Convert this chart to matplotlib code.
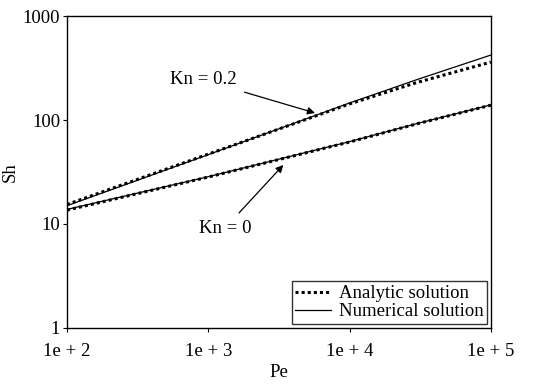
import matplotlib.pyplot as plt

plt.rcParams["font.family"] = ["Liberation Serif", "DejaVu Serif"]

pe = [1e2, 1e3, 1e4, 3e4, 1e5]
sh_kn0_analytic = [13.6, 28.3, 61.5, 92, 139]
sh_kn0_numeric = [13.8, 28.5, 62, 92.5, 140]
sh_kn02_analytic = [15.4, 47, 143, 230, 361]
sh_kn02_numeric = [15.0, 46.5, 146, 245, 422]
xticks = [1e2, 1e3, 1e4, 1e5]
xtick_labels = ["1e + 2", "1e + 3", "1e + 4", "1e + 5"]
yticks = [1, 10, 100, 1000]
ytick_labels = ["1", "10", "100", "1000"]

fs = 13.5

fig, ax = plt.subplots(figsize=(5.49, 3.84), dpi=100)
fig.subplots_adjust(left=0.122, right=0.894, top=0.958, bottom=0.146)

ax.plot(pe, sh_kn02_analytic, color="black", linestyle=(0, (1, 1)), linewidth=2.2,
        label="Analytic solution")
ax.plot(pe, sh_kn02_numeric, color="black", linewidth=0.9, label="Numerical solution")
ax.plot(pe, sh_kn0_analytic, color="black", linestyle=(0, (1, 1)), linewidth=2.2)
ax.plot(pe, sh_kn0_numeric, color="black", linewidth=0.9)

ax.set_xscale("log")
ax.set_yscale("log")
ax.set_xlim(1e2, 1e5)
ax.set_ylim(1, 1000)
ax.set_xticks(xticks)
ax.set_xticklabels(xtick_labels)
ax.set_yticks(yticks)
ax.set_yticklabels(ytick_labels)
ax.minorticks_off()
ax.tick_params(direction="out", length=3, width=0.8, labelsize=fs)
ax.tick_params(axis="x", pad=8)
ax.tick_params(axis="y", pad=2)
for spine in ax.spines.values():
    spine.set_linewidth(1.0)

ax.set_xlabel("Pe", fontsize=fs, labelpad=3)
ax.set_ylabel("Sh", fontsize=fs, labelpad=3)

ax.annotate("Kn = 0.2", xy=(5.7e3, 117), xytext=(9.2e2, 243),
            fontsize=fs, ha="center", va="center",
            arrowprops=dict(arrowstyle="-|>", color="black", lw=0.9,
                            mutation_scale=11, shrinkA=4, shrinkB=0))
ax.annotate("Kn = 0", xy=(3.4e3, 37), xytext=(1.31e3, 9.1),
            fontsize=fs, ha="center", va="center",
            arrowprops=dict(arrowstyle="-|>", color="black", lw=0.9,
                            mutation_scale=11, shrinkA=4, shrinkB=0))

leg = ax.legend(loc="lower right", fontsize=fs, frameon=True, fancybox=False,
                edgecolor="black", handlelength=1.9, handletextpad=0.4,
                borderpad=0.2, labelspacing=0.05, borderaxespad=0.2)
leg.get_frame().set_linewidth(1.0)

plt.savefig("out.png")
plt.close()
